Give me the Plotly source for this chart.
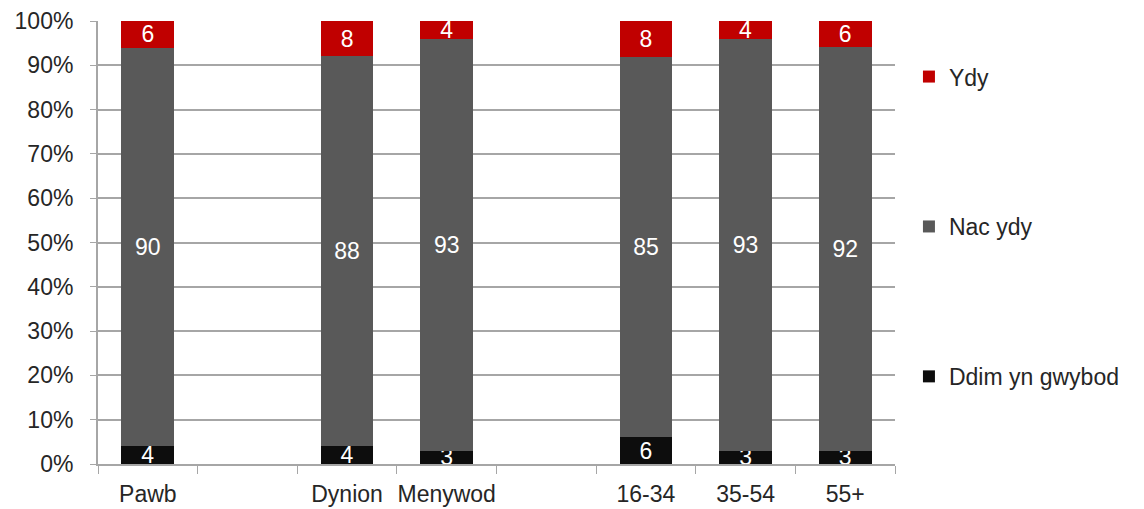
import plotly.graph_objects as go

categories = ["Pawb", " ", "Dynion", "Menywod", "  ", "16-34", "35-54", "55+"]
ddim = [4, None, 4, 3, None, 6, 3, 3]
nac = [90, None, 88, 93, None, 85, 93, 92]
ydy = [6, None, 8, 4, None, 8, 4, 6]
y_ticks = [0, 10, 20, 30, 40, 50, 60, 70, 80, 90, 100]
y_tick_labels = [f"{v}%" for v in y_ticks]

FONT = "Liberation Sans, Arial, sans-serif"
series = [
    ("Ddim yn gwybod", ddim, "#0d0d0d", 3),
    ("Nac ydy", nac, "#595959", 2),
    ("Ydy", ydy, "#c00000", 1),
]

fig = go.Figure()
for i, (name, vals, col, rank) in enumerate(series):
    fig.add_trace(go.Bar(
        x=categories, y=vals, name=name, marker_color=col,
        marker_line_width=0,
        text=[("" if v is None else str(v)) for v in vals],
        textposition="inside", insidetextanchor="middle", textangle=0,
        textfont=dict(color="white", size=23, family=FONT),
        legendgroup=f"g{i}", legendrank=rank, hoverinfo="skip",
    ))

fig.update_layout(
    barmode="stack", barnorm="percent", bargap=0.47,
    width=1144, height=509,
    margin=dict(l=90, r=257, t=13, b=53, autoexpand=False),
    paper_bgcolor="white", plot_bgcolor="white",
    font=dict(family=FONT, size=23, color="#262626"),
    uniformtext=dict(minsize=23, mode="show"),
    legend=dict(x=1.0175, xanchor="left", y=0.923, yanchor="top",
                traceorder="grouped", tracegroupgap=117,
                font=dict(size=23, color="#262626"),
                itemwidth=30, bgcolor="rgba(0,0,0,0)"),
    showlegend=True,
)
fig.update_xaxes(
    type="category", categoryorder="array", categoryarray=categories,
    tickson="boundaries", ticks="outside", ticklen=8, tickcolor="#a6a6a6",
    showline=True, linecolor="#a6a6a6", linewidth=2, showgrid=False,
    tickangle=0, automargin=False, ticklabelstandoff=8,
    tickfont=dict(size=23, color="#262626"),
)
fig.update_yaxes(
    range=[0, 100], tickvals=y_ticks, ticktext=y_tick_labels,
    showgrid=True, gridcolor="#a6a6a6", gridwidth=2,
    showline=True, linecolor="#a6a6a6", linewidth=2,
    ticks="outside", ticklen=6, tickcolor="#a6a6a6", automargin=False,
    ticklabelstandoff=12,
    tickfont=dict(size=23, color="#262626"), zeroline=False,
)
fig.write_html("out.html")
